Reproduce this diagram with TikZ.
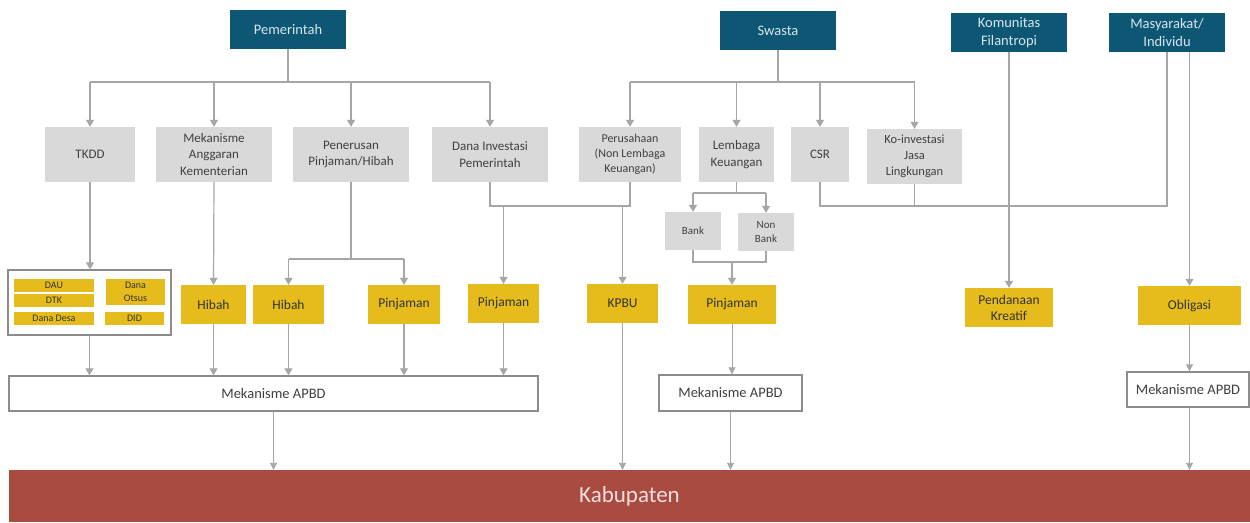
\documentclass[tikz,border=0pt]{standalone}
\usepackage{fontspec}
\setmainfont{Carlito}
\usetikzlibrary{arrows.meta}

\definecolor{teal}{RGB}{14,87,116}
\definecolor{headtxt}{RGB}{214,230,238}
\definecolor{boxgray}{RGB}{217,217,217}
\definecolor{txtgray}{RGB}{64,64,64}
\definecolor{gold}{RGB}{230,188,28}
\definecolor{goldtxt}{RGB}{51,51,51}
\definecolor{brick}{RGB}{169,75,64}
\definecolor{bricktxt}{RGB}{245,222,220}
\definecolor{linegray}{RGB}{166,166,166}
\definecolor{framegray}{RGB}{140,140,140}

\tikzset{
  base/.style={inner sep=0pt, align=center, anchor=center},
  head/.style={base, fill=teal, text=headtxt, minimum width=116pt, minimum height=39pt,
    font=\fontsize{14.5}{17.5}\selectfont},
  gbox/.style={base, fill=boxgray, text=txtgray, minimum height=55pt,
    font=\fontsize{13}{16.5}\selectfont},
  sbox/.style={base, fill=boxgray, text=txtgray, minimum width=56pt, minimum height=38pt,
    font=\fontsize{11}{14}\selectfont},
  ybox/.style={base, fill=gold, text=goldtxt, minimum height=39pt,
    font=\fontsize{13.5}{16}\selectfont},
  tiny/.style={base, fill=gold, text=goldtxt, minimum height=13pt,
    font=\fontsize{10}{13}\selectfont},
  wbox/.style={base, draw=framegray, line width=1.4pt, fill=white, text=txtgray,
    font=\fontsize{14.5}{17}\selectfont},
  link/.style={draw=linegray, line width=1.2pt},
  arr/.style={link, -{Triangle[width=8pt,length=7pt]}},
  arrlow/.style={draw=linegray, line width=0.9pt, -{Triangle[width=7pt,length=7pt]}},
}

\begin{document}
\begin{tikzpicture}[x=1pt,y=-1pt]
\useasboundingbox (0,0) rectangle (1250,522);
\fill[white] (0,0) rectangle (1250,522);

% sources
\node[head] (pem) at (288,29.5) {Pemerintah};
\node[head] (swa) at (778,30.5) {Swasta};
\node[head] (kom) at (1009,32.5) {Komunitas\\Filantropi};
\node[head] (mas) at (1167,32.5) {Masyarakat/\\Individu};

% funding channels
\node[gbox, minimum width=90pt]  (tkdd) at (90,154.5) {TKDD};
\node[gbox, minimum width=116pt] (mak)  at (214,154.5) {Mekanisme\\Anggaran\\Kementerian};
\node[gbox, minimum width=116pt] (pen)  at (351,154.5) {Penerusan\\Pinjaman/Hibah};
\node[gbox, minimum width=116pt] (dip)  at (490,154.5) {Dana Investasi\\Pemerintah};
\node[gbox, minimum width=102pt, font=\fontsize{12}{15}\selectfont] (per) at (630,154.5) {Perusahaan\\(Non Lembaga\\Keuangan)};
\node[gbox, minimum width=75pt]  (lk)   at (736.5,154.5) {Lembaga\\Keuangan};
\node[gbox, minimum width=58pt]  (csr)  at (820,154.5) {CSR};
\node[gbox, minimum width=95pt, font=\fontsize{12.5}{16}\selectfont] (koi) at (914.5,156.5) {Ko-investasi\\Jasa\\Lingkungan};

\node[sbox] (bank) at (693,231) {Bank};
\node[sbox] (nbank) at (766,232) {Non\\Bank};

% TKDD components
\node[base, draw=framegray, line width=1.4pt, minimum width=163pt, minimum height=65pt] (cont) at (89.5,302.5) {};
\node[tiny, minimum width=80pt] (dau)  at (54,285.5) {DAU};
\node[tiny, minimum width=80pt] (dtk)  at (54,300.5) {DTK};
\node[tiny, minimum width=80pt] (desa) at (54,318.5) {Dana Desa};
\node[tiny, minimum width=59pt, minimum height=26pt] (otsus) at (135.5,292) {Dana\\Otsus};
\node[tiny, minimum width=59pt] (did) at (134.5,318.5) {DID};

% instruments
\node[ybox, minimum width=65pt]  (hib1) at (213.5,304.5) {Hibah};
\node[ybox, minimum width=71pt]  (hib2) at (288.5,304.5) {Hibah};
\node[ybox, minimum width=72pt]  (pin1) at (404,304.5) {Pinjaman};
\node[ybox, minimum width=71pt]  (pin2) at (503.5,303.5) {Pinjaman};
\node[ybox, minimum width=71pt]  (kpbu) at (622.5,303.5) {KPBU};
\node[ybox, minimum width=88pt]  (pin3) at (732,304.5) {Pinjaman};
\node[ybox, minimum width=88pt]  (pk)   at (1009,307.5) {Pendanaan\\Kreatif};
\node[ybox, minimum width=103pt] (obl)  at (1189.5,305.5) {Obligasi};

% budget mechanisms
\node[wbox, minimum width=529pt, minimum height=35pt] (ap1) at (273.5,393.5) {Mekanisme APBD};
\node[wbox, minimum width=143pt, minimum height=36pt] (ap2) at (730.5,393) {Mekanisme APBD};
\node[wbox, minimum width=122pt, minimum height=35pt] (ap3) at (1188,389.5) {Mekanisme APBD};

% recipient
\node[base, fill=brick, text=bricktxt, minimum width=1241pt, minimum height=52pt,
  font=\fontsize{23}{27}\selectfont] (kab) at (629.5,496) {Kabupaten};

% junction points
\coordinate (pj) at (288,82);
\coordinate (sj) at (778,82);
\coordinate (penj) at (351,259);
\coordinate (mj) at (560,206);
\coordinate (lkj) at (736.5,193);
\coordinate (bj) at (732,262);

% Pemerintah tree
\draw[link] (pem.south) -- (pj);
\draw[link] (tkdd.north |- pj) -- (dip.north |- pj);
\foreach \n in {tkdd,mak,pen,dip} \draw[arr] (\n.north |- pj) -- (\n.north);

% Swasta tree
\draw[link] (swa.south) -- (sj);
\draw[link] (per.north |- sj) -- (koi.north |- sj);
\foreach \n in {per,lk,csr,koi} \draw[arr] (\n.north |- sj) -- (\n.north);

% TKDD and ministry budgets
\draw[arr] (tkdd.south) -- (cont.north -| tkdd.south);
\draw[arr] (mak.south) -- (hib1.north);

% on-lending and grants
\draw[link] (pen.south) -- (penj);
\draw[link] (hib2.north |- penj) -- (pin1.north |- penj);
\draw[arr] (hib2.north |- penj) -- (hib2.north);
\draw[arr] (pin1.north |- penj) -- (pin1.north);

% government investment and companies
\draw[link] (dip.south) |- (per.south |- mj) -- (per.south);
\draw[arr] (pin2.north |- mj) -- (pin2.north);
\draw[arr] (kpbu.north |- mj) -- (kpbu.north);

% financial institutions
\draw[link] (lk.south) -- (lkj);
\draw[link] (bank.north |- lkj) -- (nbank.north |- lkj);
\draw[arr] (bank.north |- lkj) -- (bank.north);
\draw[arr] (nbank.north |- lkj) -- (nbank.north);
\draw[link] (bank.south) |- (nbank.south |- bj) -- (nbank.south);
\draw[arr] (bj) -- (pin3.north);

% CSR, co-investment and community
\draw[link] (csr.south) |- (mas.south |- mj) -- (mas.south);
\draw[link] (koi.south) -- ([yshift=1.5pt]koi.south |- mj);
\draw[arr] (kom.south) -- (pk.north);
\draw[arr] (mas.south -| obl.north) -- (obl.north);

% into budget mechanisms
\foreach \n in {cont,hib1,hib2,pin1,pin2} \draw[arr] (\n.south) -- (\n.south |- ap1.north);
\draw[arrlow] (pin3.south) -- (pin3.south |- ap2.north);
\draw[arrlow] (obl.south) -- (obl.south |- ap3.north);

% into Kabupaten
\draw[arrlow] (ap1.south) -- (ap1.south |- kab.north);
\draw[arrlow] (kpbu.south) -- (kpbu.south |- kab.north);
\draw[arrlow] (ap2.south) -- (ap2.south |- kab.north);
\draw[arrlow] (obl.south |- ap3.south) -- (obl.south |- kab.north);
\end{tikzpicture}
\end{document}
